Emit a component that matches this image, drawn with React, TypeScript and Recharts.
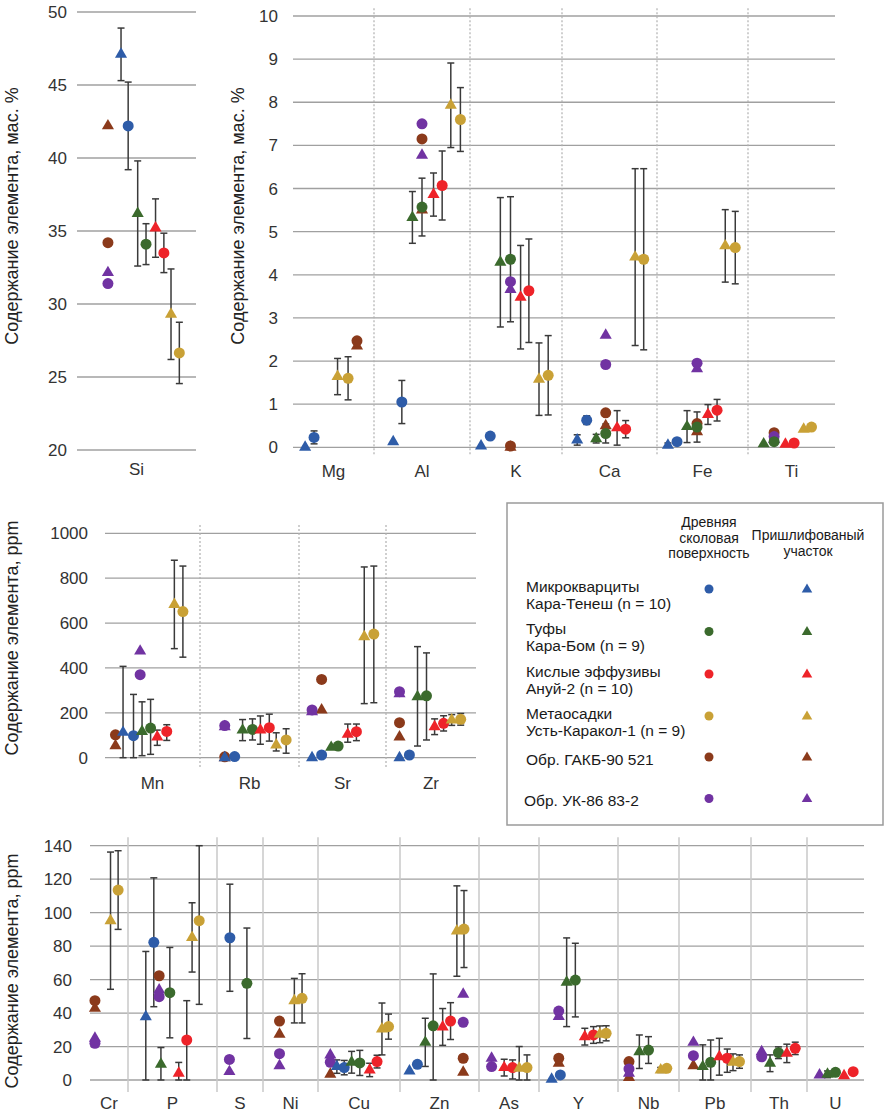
import React from 'react';
import { ScatterChart, Scatter, XAxis, YAxis, CartesianGrid, ErrorBar, ReferenceLine } from 'recharts';

const FONT = '"Liberation Sans", Arial, Helvetica, sans-serif';

type Err = number | [number, number];
type Row = [string, string, number, number, Err?];

// ---------- categories ----------
const siCats = ['Si'];
const siWidths = [119];
const topCats = ['Mg', 'Al', 'K', 'Ca', 'Fe', 'Ti'];
const topWidths = [81, 96, 92, 95, 91, 87];
const midCats = ['Mn', 'Rb', 'Sr', 'Zr'];
const midWidths = [95, 99, 87, 90];
const botCats = ['Cr', 'P', 'S', 'Ni', 'Cu', 'Zn', 'As', 'Y', 'Nb', 'Pb', 'Th', 'U'];
const botWidths = [38, 89, 46, 55, 82, 79, 60, 79, 61, 72, 56, 57];

// ---------- tick values ----------
const siTicks = [20, 25, 30, 35, 40, 45, 50];
const topTicks = [0, 1, 2, 3, 4, 5, 6, 7, 8, 9, 10];
const midTicks = [0, 200, 400, 600, 800, 1000];
const botTicks = [0, 20, 40, 60, 80, 100, 120, 140];

// ---------- values: [series, category, position in category, value, error] ----------
const siRows: Row[] = [
  ['brT', 'Si', 0.26, 42.2], ['brC', 'Si', 0.26, 34.2], ['pT', 'Si', 0.26, 32.15], ['pC', 'Si', 0.26, 31.4],
  ['bT', 'Si', 0.37, 47.1, 1.8], ['bC', 'Si', 0.43, 42.2, 3.0],
  ['gT', 'Si', 0.51, 36.2, 3.6], ['gC', 'Si', 0.58, 34.1, 1.4],
  ['rT', 'Si', 0.66, 35.2, 2.0], ['rC', 'Si', 0.73, 33.5, 1.35],
  ['yT', 'Si', 0.79, 29.3, 3.1], ['yC', 'Si', 0.86, 26.65, 2.1],
];

const topRows: Row[] = [
  ['bT', 'Mg', 0.15, 0.0], ['bC', 'Mg', 0.26, 0.23, 0.15], ['yT', 'Mg', 0.55, 1.64, 0.42], ['yC', 'Mg', 0.68, 1.6, 0.5],
  ['brT', 'Mg', 0.79, 2.35], ['brC', 'Mg', 0.79, 2.47],

  ['bT', 'Al', 0.2, 0.13], ['bC', 'Al', 0.29, 1.05, 0.5], ['gT', 'Al', 0.4, 5.33, 0.6],
  ['pC', 'Al', 0.5, 7.5], ['brC', 'Al', 0.5, 7.15], ['pT', 'Al', 0.5, 6.77], ['brT', 'Al', 0.5, 5.5],
  ['gC', 'Al', 0.5, 5.57, 0.67], ['rT', 'Al', 0.62, 5.86, 0.5], ['rC', 'Al', 0.71, 6.07, 0.8],
  ['yT', 'Al', 0.8, 7.93, 0.98], ['yC', 'Al', 0.9, 7.6, 0.74],

  ['bT', 'K', 0.12, 0.03], ['bC', 'K', 0.22, 0.26, 0.06], ['gT', 'K', 0.33, 4.29, 1.5], ['gC', 'K', 0.44, 4.36, 1.45],
  ['pC', 'K', 0.44, 3.84], ['pT', 'K', 0.44, 3.66], ['brC', 'K', 0.44, 0.03], ['brT', 'K', 0.44, 0.0],
  ['rT', 'K', 0.55, 3.48, 1.2], ['rC', 'K', 0.64, 3.63, 1.2], ['yT', 'K', 0.75, 1.58, 0.84], ['yC', 'K', 0.85, 1.67, 0.92],

  ['bT', 'Ca', 0.16, 0.17, 0.12], ['bC', 'Ca', 0.26, 0.63, 0.1], ['gT', 'Ca', 0.36, 0.2, 0.1], ['gC', 'Ca', 0.46, 0.32, 0.22],
  ['brC', 'Ca', 0.46, 0.8], ['brT', 'Ca', 0.46, 0.5], ['pT', 'Ca', 0.46, 2.6], ['pC', 'Ca', 0.46, 1.92],
  ['rT', 'Ca', 0.58, 0.45, 0.4], ['rC', 'Ca', 0.67, 0.42, 0.2], ['yT', 'Ca', 0.77, 4.41, 2.05], ['yC', 'Ca', 0.86, 4.36, 2.1],

  ['bT', 'Fe', 0.12, 0.05, 0.05], ['bC', 'Fe', 0.22, 0.13, 0.05], ['gT', 'Fe', 0.33, 0.48, 0.37], ['gC', 'Fe', 0.44, 0.47, 0.35],
  ['brC', 'Fe', 0.44, 0.55], ['brT', 'Fe', 0.44, 0.36], ['pC', 'Fe', 0.44, 1.95], ['pT', 'Fe', 0.44, 1.82],
  ['rT', 'Fe', 0.56, 0.76, 0.23], ['rC', 'Fe', 0.66, 0.86, 0.25], ['yT', 'Fe', 0.75, 4.67, 0.84], ['yC', 'Fe', 0.86, 4.63, 0.84],

  ['gT', 'Ti', 0.18, 0.08], ['gC', 'Ti', 0.3, 0.13], ['brC', 'Ti', 0.3, 0.34], ['pC', 'Ti', 0.3, 0.25], ['pT', 'Ti', 0.3, 0.18],
  ['rT', 'Ti', 0.43, 0.07], ['rC', 'Ti', 0.53, 0.1], ['yT', 'Ti', 0.64, 0.42], ['yC', 'Ti', 0.73, 0.47],
];

const midRows: Row[] = [
  ['brC', 'Mn', 0.11, 102], ['brT', 'Mn', 0.11, 53], ['bT', 'Mn', 0.19, 113, [113, 294]], ['bC', 'Mn', 0.3, 98, [98, 184]],
  ['pT', 'Mn', 0.37, 475], ['pC', 'Mn', 0.37, 370], ['gT', 'Mn', 0.39, 117, [108, 132]], ['gC', 'Mn', 0.48, 132, [117, 128]],
  ['rT', 'Mn', 0.55, 92, [37, 31]], ['rC', 'Mn', 0.65, 117, [40, 30]], ['yT', 'Mn', 0.73, 683, 197], ['yC', 'Mn', 0.82, 651, 203],

  ['pC', 'Rb', 0.25, 143], ['pT', 'Rb', 0.25, 138], ['brC', 'Rb', 0.25, 4], ['brT', 'Rb', 0.25, 0], ['bT', 'Rb', 0.25, 0],
  ['bC', 'Rb', 0.35, 5], ['gT', 'Rb', 0.43, 123, 47], ['gC', 'Rb', 0.53, 126, 47], ['rT', 'Rb', 0.61, 123, 63],
  ['rC', 'Rb', 0.7, 134, 60], ['yT', 'Rb', 0.77, 57, [27, 54]], ['yC', 'Rb', 0.87, 79, [59, 50]],

  ['pC', 'Sr', 0.15, 213], ['pT', 'Sr', 0.15, 205], ['bT', 'Sr', 0.15, 0], ['brC', 'Sr', 0.26, 349], ['brT', 'Sr', 0.26, 213],
  ['bC', 'Sr', 0.26, 12], ['gT', 'Sr', 0.37, 46], ['gC', 'Sr', 0.45, 52, 10], ['rT', 'Sr', 0.56, 104, [35, 46]],
  ['rC', 'Sr', 0.66, 116, [40, 34]], ['yT', 'Sr', 0.75, 539, [298, 311]], ['yC', 'Sr', 0.86, 551, [306, 303]],

  ['pC', 'Zr', 0.15, 294], ['pT', 'Zr', 0.15, 285], ['brC', 'Zr', 0.15, 156], ['brT', 'Zr', 0.15, 92], ['bT', 'Zr', 0.15, 0],
  ['bC', 'Zr', 0.26, 12], ['gT', 'Zr', 0.35, 272, [220, 223]], ['gC', 'Zr', 0.45, 276, [197, 191]],
  ['rT', 'Zr', 0.54, 138, 35], ['rC', 'Zr', 0.64, 153, 34], ['yT', 'Zr', 0.73, 168, 24], ['yC', 'Zr', 0.83, 171, 26],
];

const botRows: Row[] = [
  ['brC', 'Cr', 0.13, 47.4], ['brT', 'Cr', 0.13, 42.8], ['pT', 'Cr', 0.13, 24.9], ['pC', 'Cr', 0.13, 21.9],
  ['yT', 'Cr', 0.54, 95.2, 41], ['yC', 'Cr', 0.74, 113.5, 23.5],

  ['bT', 'P', 0.2, 37.8, [37.8, 39]], ['bC', 'P', 0.29, 82.3, 38.5], ['brC', 'P', 0.35, 62.3], ['pT', 'P', 0.35, 53.8],
  ['pC', 'P', 0.35, 49.8], ['gT', 'P', 0.37, 9.4, [9.4, 10]], ['gC', 'P', 0.47, 52.2, 27], ['rT', 'P', 0.57, 4, [4, 6.5]],
  ['rC', 'P', 0.66, 23.9, [23.9, 23.5]], ['yT', 'P', 0.72, 85.2, 20.7], ['yC', 'P', 0.8, 95.2, [50, 44.8]],

  ['pC', 'S', 0.27, 12.3], ['pT', 'S', 0.27, 5], ['bC', 'S', 0.28, 85, 32], ['gC', 'S', 0.65, 57.8, 33],

  ['brC', 'Ni', 0.3, 35.2], ['brT', 'Ni', 0.3, 27.3], ['pC', 'Ni', 0.3, 15.7], ['pT', 'Ni', 0.3, 8.5],
  ['yT', 'Ni', 0.57, 47.4, 13.3], ['yC', 'Ni', 0.71, 48.8, 14.7],

  ['pT', 'Cu', 0.15, 14.9], ['pC', 'Cu', 0.15, 10.6], ['brT', 'Cu', 0.15, 3.4], ['bT', 'Cu', 0.23, 8, 4], ['bC', 'Cu', 0.32, 7.4, 4.3],
  ['gT', 'Cu', 0.41, 10.6, 6.5], ['gC', 'Cu', 0.51, 10.2, 7.5], ['rT', 'Cu', 0.63, 6, 4], ['rC', 'Cu', 0.72, 11, 3.8],
  ['yT', 'Cu', 0.78, 30.5, 15.5], ['yC', 'Cu', 0.86, 31.9, 7.5],

  ['bT', 'Zn', 0.12, 5.4], ['bC', 'Zn', 0.22, 9.4], ['gT', 'Zn', 0.32, 22.5, 14.4], ['gC', 'Zn', 0.42, 32.4, [32.4, 31]],
  ['rT', 'Zn', 0.54, 31.7, 11], ['rC', 'Zn', 0.64, 35.2, 11], ['yT', 'Zn', 0.72, 89, 27], ['yC', 'Zn', 0.81, 90.2, 23],
  ['pT', 'Zn', 0.8, 51.2], ['pC', 'Zn', 0.8, 34.5], ['brC', 'Zn', 0.8, 13], ['brT', 'Zn', 0.8, 4.6],

  ['pT', 'As', 0.21, 13], ['pC', 'As', 0.21, 8], ['rT', 'As', 0.42, 7.4, 5], ['rC', 'As', 0.56, 7.4, [6.8, 4.6]],
  ['yT', 'As', 0.67, 7, [7, 13]], ['yC', 'As', 0.8, 7.4, [7.4, 7.6]],

  ['bT', 'Y', 0.16, 0.5], ['bC', 'Y', 0.27, 3], ['brT', 'Y', 0.25, 10], ['brC', 'Y', 0.25, 13], ['pT', 'Y', 0.25, 38],
  ['pC', 'Y', 0.25, 41.2], ['gT', 'Y', 0.35, 58.4, 26.5], ['gC', 'Y', 0.46, 59.7, 22], ['rT', 'Y', 0.58, 25.9, 5],
  ['rC', 'Y', 0.69, 26.9, 5], ['yT', 'Y', 0.77, 27.3, 5], ['yC', 'Y', 0.85, 27.9, 4.5],

  ['brC', 'Nb', 0.18, 11], ['brT', 'Nb', 0.18, 1.5], ['pT', 'Nb', 0.18, 4], ['pC', 'Nb', 0.18, 6.6],
  ['gT', 'Nb', 0.35, 16.9, 10], ['gC', 'Nb', 0.5, 17.9, 8], ['yT', 'Nb', 0.7, 6, 1.5], ['yC', 'Nb', 0.8, 7, 1.5],

  ['pT', 'Pb', 0.2, 22.5], ['pC', 'Pb', 0.2, 14.5], ['brT', 'Pb', 0.2, 8.5], ['gT', 'Pb', 0.33, 8, [8, 13]],
  ['gC', 'Pb', 0.44, 10.6, [10.6, 13.3]], ['rT', 'Pb', 0.56, 13.9, 11], ['rC', 'Pb', 0.67, 13, [8.4, 5.5]],
  ['yT', 'Pb', 0.75, 10.6, 5], ['yC', 'Pb', 0.84, 11, 4],

  ['pT', 'Th', 0.19, 16.9], ['pC', 'Th', 0.19, 13.9], ['gT', 'Th', 0.34, 10, 5], ['gC', 'Th', 0.49, 16.3, 3.5],
  ['rT', 'Th', 0.64, 15.9, 5.5], ['rC', 'Th', 0.79, 18.9, 3.7],

  ['pT', 'U', 0.22, 3], ['gT', 'U', 0.36, 3.4, 2], ['gC', 'U', 0.5, 4.6, 2], ['rT', 'U', 0.65, 2.6], ['rC', 'U', 0.81, 5, 1.5],
];

// ---------- legend ----------
const legendLabels: string[][] = [
  ['Микрокварциты', 'Кара-Тенеш (n = 10)'],
  ['Туфы', 'Кара-Бом  (n = 9)'],
  ['Кислые эффузивы', 'Ануй-2  (n = 10)'],
  ['Метаосадки', 'Усть-Каракол-1  (n = 9)'],
  ['Обр. ГАКБ-90 521'],
  ['Обр. УК-86 83-2'],
];
const legendGroups = ['b', 'g', 'r', 'y', 'br', 'p'];
const headerCircle = ['Древняя', 'сколовая', 'поверхность'];
const headerTriangle = ['Пришлифованый', 'участок'];

const COLORS: Record<string, string> = {
  b: '#2e5ca8',
  g: '#3b6a2d',
  r: '#ee2329',
  y: '#c9a136',
  br: '#8b3a1b',
  p: '#7133a2',
};

const SERIES_ORDER = ['brT', 'brC', 'pT', 'pC', 'bT', 'bC', 'gT', 'gC', 'rT', 'rC', 'yT', 'yC'];

const groupOf = (id: string) => id.slice(0, -1);
const kindOf = (id: string) => id.slice(-1);

function Marker({ cx, cy, color, kind, r = 5.5 }: { cx: number; cy: number; color: string; kind: string; r?: number }) {
  if (kind === 'C') return <circle cx={cx} cy={cy} r={r} fill={color} />;
  const w = r * 2.2;
  const h = r * 1.9;
  return (
    <path
      d={`M${cx},${cy - (2 * h) / 3} L${cx + w / 2},${cy + h / 3} L${cx - w / 2},${cy + h / 3} Z`}
      fill={color}
    />
  );
}

function build(rows: Row[], cats: string[], widths: number[]) {
  const starts: number[] = [];
  let acc = 0;
  widths.forEach((w) => {
    starts.push(acc);
    acc += w;
  });
  const byId: Record<string, { x: number; y: number; err?: [number, number] }[]> = {};
  rows.forEach(([id, cat, frac, y, e]) => {
    const i = cats.indexOf(cat);
    const x = starts[i] + frac * widths[i];
    let err: [number, number] | undefined;
    if (e !== undefined) err = Array.isArray(e) ? e : [Math.min(e, y), e];
    (byId[id] = byId[id] || []).push({ x, y, err });
  });
  const centers = widths.map((w, i) => starts[i] + w / 2);
  const inner = starts.slice(1);
  return { byId, total: acc, centers, inner };
}

type PanelProps = {
  left: number;
  top: number;
  width: number;
  height: number;
  margin: { top: number; right: number; bottom: number; left: number };
  yWidth: number;
  yDomain: [number, number];
  yTicks: number[];
  yTickMargin: number;
  xTickMargin: number;
  cats: string[];
  widths: number[];
  rows: Row[];
  vSeg?: [number, number];
  vStroke?: string;
  vDash?: string;
  vWidth?: number;
};

function Panel(p: PanelProps) {
  const { byId, total, centers, inner } = build(p.rows, p.cats, p.widths);
  const tickStyle = { fill: '#333', fontSize: 17, fontFamily: FONT };
  return (
    <div style={{ position: 'absolute', left: p.left, top: p.top }}>
      <ScatterChart width={p.width} height={p.height} margin={p.margin}>
        <CartesianGrid horizontal vertical={false} stroke="#a0a0a0" strokeWidth={1.3} />
        <XAxis
          type="number"
          dataKey="x"
          domain={[0, total]}
          ticks={centers}
          interval={0}
          tickFormatter={(v: number) => p.cats[centers.indexOf(v)] ?? ''}
          axisLine={false}
          tickLine={false}
          tick={tickStyle}
          tickMargin={p.xTickMargin}
          height={30}
        />
        <YAxis
          type="number"
          dataKey="y"
          domain={p.yDomain}
          ticks={p.yTicks}
          interval={0}
          axisLine={false}
          tickLine={false}
          tick={tickStyle}
          tickMargin={p.yTickMargin}
          width={p.yWidth}
        />
        {p.vSeg &&
          inner.map((x) => (
            <ReferenceLine
              key={x}
              segment={[
                { x, y: p.vSeg![0] },
                { x, y: p.vSeg![1] },
              ]}
              ifOverflow="visible"
              stroke={p.vStroke}
              strokeDasharray={p.vDash}
              strokeWidth={p.vWidth}
            />
          ))}
        {SERIES_ORDER.filter((id) => byId[id]).map((id) => {
          const color = COLORS[groupOf(id)];
          const kind = kindOf(id);
          return (
            <Scatter
              key={id}
              name={id}
              data={byId[id]}
              fill={color}
              isAnimationActive={false}
              shape={(sp: any) =>
                sp.cx == null || sp.cy == null ? <g /> : <Marker cx={sp.cx} cy={sp.cy} color={color} kind={kind} />
              }
            >
              <ErrorBar dataKey="err" direction="y" width={3.5} stroke="#3a3a3a" strokeWidth={1.5} />
            </Scatter>
          );
        })}
      </ScatterChart>
    </div>
  );
}

function Overlay() {
  const titleStyle = { fontFamily: FONT, fontSize: 18, fill: '#222' } as const;
  const legendText = { fontFamily: FONT, fontSize: 15.5, fill: '#1a1a1a' } as const;
  const headText = { fontFamily: FONT, fontSize: 14, fill: '#1a1a1a' } as const;
  const rowY = [589, 631.5, 674, 716, 757, 798.5];
  return (
    <svg width={885} height={1117} style={{ position: 'absolute', left: 0, top: 0, pointerEvents: 'none' }}>
      <text transform="translate(17.5,216) rotate(-90)" textAnchor="middle" {...titleStyle}>
        Содержание элемента, мас. %
      </text>
      <text transform="translate(243.5,216) rotate(-90)" textAnchor="middle" {...titleStyle}>
        Содержание элемента, мас. %
      </text>
      <text transform="translate(18.3,638) rotate(-90)" textAnchor="middle" {...titleStyle}>
        Содержание элемента, ppm
      </text>
      <text transform="translate(18.3,971) rotate(-90)" textAnchor="middle" {...titleStyle}>
        Содержание элемента, ppm
      </text>

      <rect x={507} y={503} width={376} height={322} fill="none" stroke="#9a9a9a" strokeWidth={1.5} />
      {headerCircle.map((t, i) => (
        <text key={t} x={709} y={527 + i * 15.5} textAnchor="middle" {...headText}>
          {t}
        </text>
      ))}
      {headerTriangle.map((t, i) => (
        <text key={t} x={808} y={540 + i * 16} textAnchor="middle" {...headText}>
          {t}
        </text>
      ))}
      {legendLabels.map((lines, i) => {
        const y0 = rowY[i];
        const single = lines.length === 1;
        return (
          <g key={i}>
            {lines.map((t, j) => (
              <text key={j} x={i === 5 ? 524 : 526} y={single ? y0 + 7.5 : y0 + 2.8 + j * 16.8} {...legendText}>
                {t}
              </text>
            ))}
            <Marker cx={709} cy={y0} color={COLORS[legendGroups[i]]} kind="C" r={4.5} />
            <Marker cx={807} cy={y0 + 0.5} color={COLORS[legendGroups[i]]} kind="T" r={4.8} />
          </g>
        );
      })}
    </svg>
  );
}

export default function App() {
  return (
    <div style={{ position: 'absolute', left: 0, top: 0, width: 885, height: 1117, background: '#fff', overflow: 'hidden' }}>
      <Panel
        left={0}
        top={0}
        width={205}
        height={490}
        margin={{ top: 12, right: 9, bottom: 10, left: 0 }}
        yWidth={77}
        yDomain={[20, 50]}
        yTicks={siTicks}
        yTickMargin={4}
        xTickMargin={7}
        cats={siCats}
        widths={siWidths}
        rows={siRows}
      />
      <Panel
        left={225}
        top={0}
        width={620}
        height={490}
        margin={{ top: 16, right: 10, bottom: 12.7, left: 0 }}
        yWidth={68}
        yDomain={[0, 10]}
        yTicks={topTicks}
        yTickMargin={9}
        xTickMargin={12}
        cats={topCats}
        widths={topWidths}
        rows={topRows}
        vSeg={[-0.16, 10.18]}
        vStroke="#b0b0b0"
        vDash="2 2"
        vWidth={1.2}
      />
      <Panel
        left={0}
        top={490}
        width={486}
        height={310}
        margin={{ top: 43.3, right: 10, bottom: 12.3, left: 0 }}
        yWidth={105}
        yDomain={[0, 1000]}
        yTicks={midTicks}
        yTickMargin={11}
        xTickMargin={13}
        cats={midCats}
        widths={midWidths}
        rows={midRows}
        vSeg={[-41, 1046]}
        vStroke="#b0b0b0"
        vDash="2 2"
        vWidth={1.2}
      />
      <Panel
        left={0}
        top={825}
        width={885}
        height={292}
        margin={{ top: 20.7, right: 21, bottom: 7, left: 0 }}
        yWidth={90}
        yDomain={[0, 140]}
        yTicks={botTicks}
        yTickMargin={12}
        xTickMargin={11}
        cats={botCats}
        widths={botWidths}
        rows={botRows}
        vSeg={[-7.2, 145]}
        vStroke="#c8c8c8"
        vWidth={1.5}
      />
      <Overlay />
    </div>
  );
}
